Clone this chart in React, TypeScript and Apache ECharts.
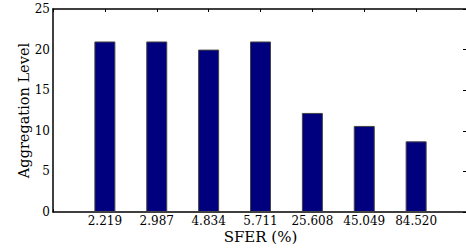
import React, { useEffect, useRef } from "react";
import * as echarts from "echarts";

const categories = ["2.219", "2.987", "4.834", "5.711", "25.608", "45.049", "84.520"];
const aggregationLevel = [21, 21, 20, 21, 12.2, 10.6, 8.7];
const yTicks = [0, 5, 10, 15, 20, 25];

const FONT = "DejaVu Serif";

export default function App() {
  const ref = useRef<HTMLDivElement>(null);
  useEffect(() => {
    if (!ref.current) return;
    const chart = echarts.init(ref.current, null, { renderer: "svg" });
    const axisLine = { show: true, onZero: false, lineStyle: { color: "#000", width: 1.5 } };
    chart.setOption({
      animation: false,
      backgroundColor: "#fff",
      textStyle: { fontFamily: FONT },
      grid: {
        left: 53,
        top: 9,
        width: 415,
        height: 203,
        containLabel: false,
        outerBoundsMode: "none",
      },
      xAxis: [
        {
          type: "value",
          position: "bottom",
          min: 0,
          max: categories.length + 1,
          interval: 1,
          axisLine,
          axisTick: { show: true, inside: true, length: 3, lineStyle: { color: "#000" } },
          splitLine: { show: false },
          axisLabel: {
            margin: 3,
            fontFamily: FONT,
            fontSize: 12,
            lineHeight: 12,
            color: "#000",
            formatter: (v: number) =>
              v >= 1 && v <= categories.length ? categories[Math.round(v) - 1] : "",
          },
          name: "SFER (%)",
          nameLocation: "middle",
          nameGap: 17,
          nameMoveOverlap: false,
          nameTextStyle: {
            fontFamily: FONT,
            fontSize: 15,
            lineHeight: 15,
            color: "#000",
            verticalAlign: "top",
          },
        },
        {
          type: "value",
          position: "top",
          min: 0,
          max: categories.length + 1,
          interval: 1,
          axisLine,
          axisTick: { show: true, inside: true, length: 3, lineStyle: { color: "#000" } },
          axisLabel: { show: false },
          splitLine: { show: false },
        },
      ],
      yAxis: [
        {
          type: "value",
          position: "left",
          min: yTicks[0],
          max: yTicks[yTicks.length - 1],
          interval: 5,
          axisLine,
          axisTick: { show: false },
          splitLine: { show: false },
          axisLabel: { margin: 3, fontFamily: FONT, fontSize: 12, color: "#000" },
          name: "Aggregation Level",
          nameLocation: "middle",
          nameGap: 22,
          nameMoveOverlap: false,
          nameTextStyle: { fontFamily: FONT, fontSize: 14.5, color: "#000" },
        },
        {
          type: "value",
          position: "right",
          min: yTicks[0],
          max: yTicks[yTicks.length - 1],
          interval: 5,
          axisLine,
          axisTick: { show: true, inside: true, length: 5, lineStyle: { color: "#000" } },
          axisLabel: { show: false },
          splitLine: { show: false },
        },
      ],
      series: [
        {
          type: "bar",
          xAxisIndex: 0,
          yAxisIndex: 0,
          barWidth: 21,
          data: aggregationLevel.map((v, i) => [i + 1, v]),
          itemStyle: { color: "#00007F", borderColor: "#444", borderWidth: 1 },
        },
      ],
    });
    return () => chart.dispose();
  }, []);
  return (
    <div
      ref={ref}
      style={{ position: "absolute", left: 0, top: 0, width: 466, height: 250 }}
    />
  );
}
